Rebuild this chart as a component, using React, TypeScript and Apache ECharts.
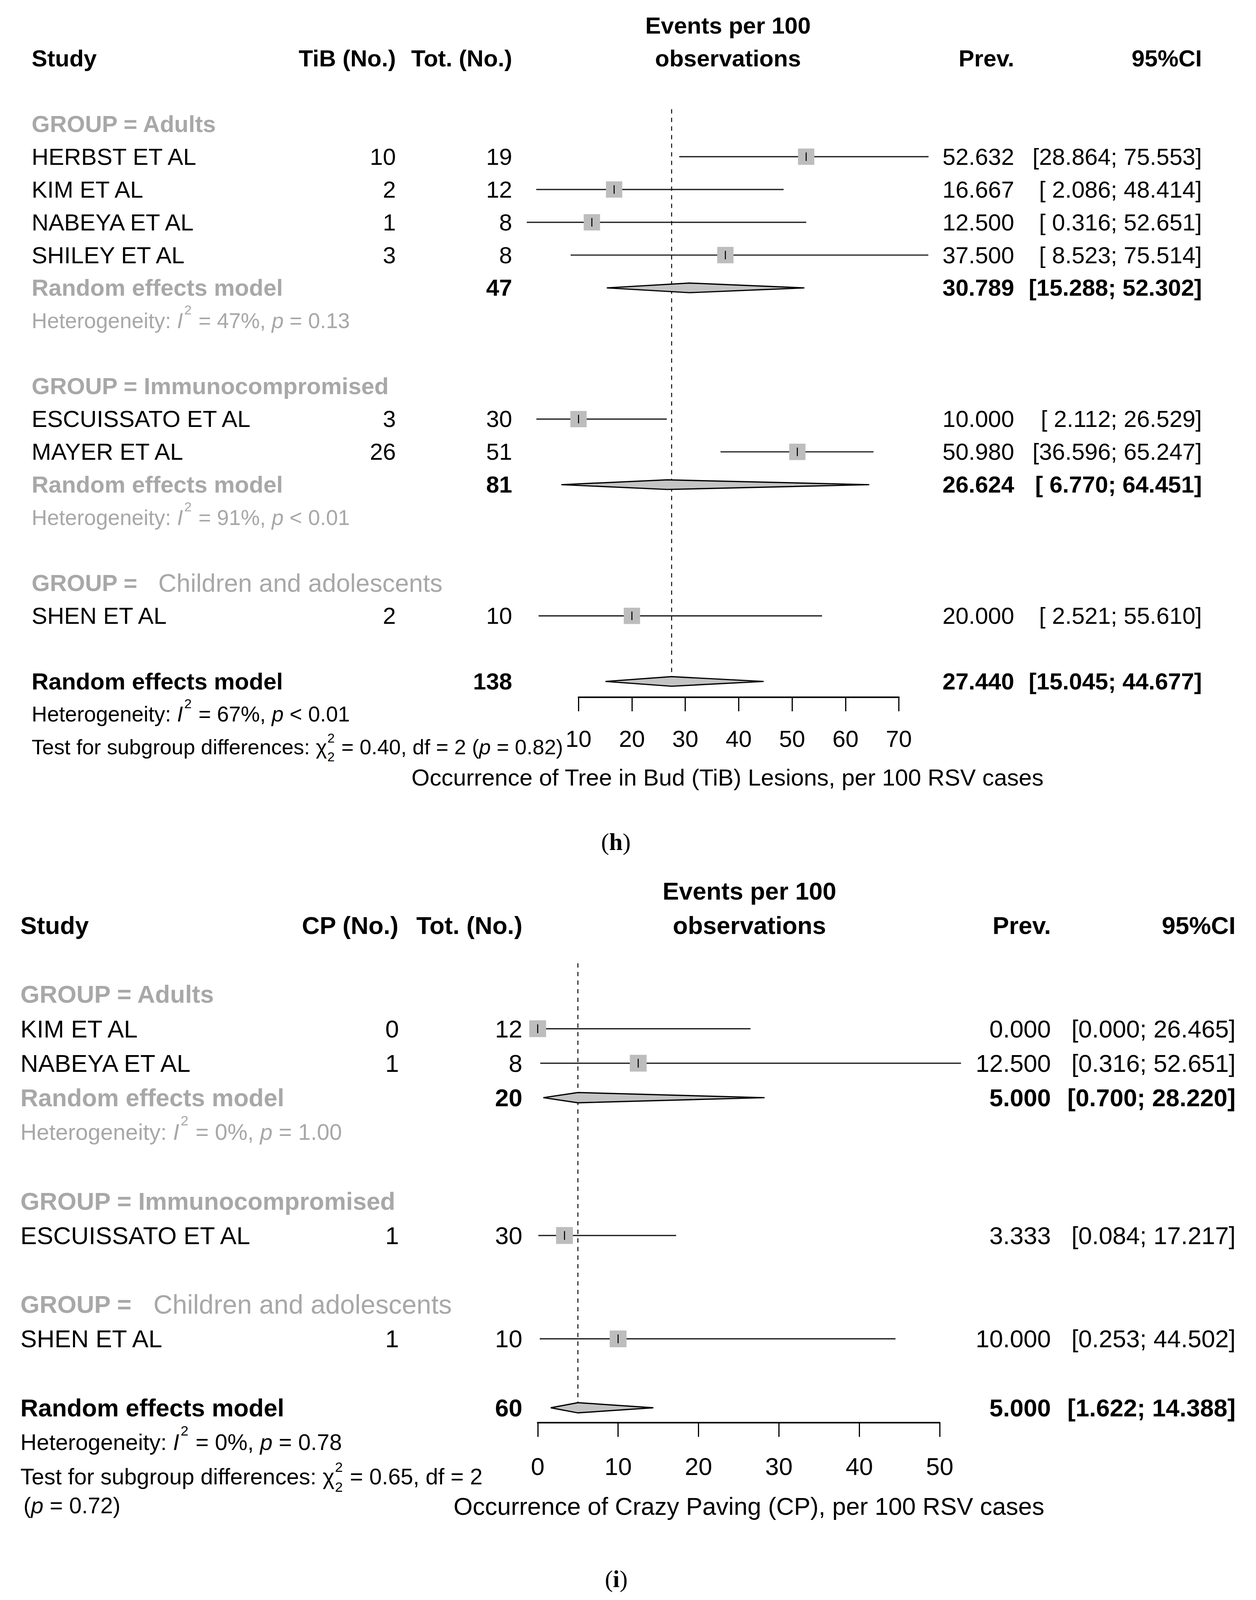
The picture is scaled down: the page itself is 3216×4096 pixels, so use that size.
import React, { useEffect, useRef } from 'react';
import * as echarts from 'echarts';

const W = 3216;
const H = 4096;
const S = W / 1231;
const FONT = '"Liberation Sans", Arial, Helvetica, sans-serif';
const SERIF = '"Liberation Serif", "Times New Roman", serif';
const BLACK = '#000000';
const GRAY = '#a8a8a8';
const SQ_FILL = '#bdbdbd';
const DIA_FILL = '#c4c4c4';
const MATH_K = 0.915; // plotmath lines are set slightly narrower
const TEST_K = 0.903;
const NAME_K = 1.075; // "Children and adolescents" label is set slightly wider

// ---------------- Panel (h): Tree in Bud ----------------
const hStudies = ['HERBST ET AL', 'KIM ET AL', 'NABEYA ET AL', 'SHILEY ET AL', 'ESCUISSATO ET AL', 'MAYER ET AL', 'SHEN ET AL'];
const hGroupIdx = [0, 0, 0, 0, 1, 1, 2];
const hEvents = [10, 2, 1, 3, 3, 26, 2];
const hTotals = [19, 12, 8, 8, 30, 51, 10];
const hPrev = [52.632, 16.667, 12.5, 37.5, 10.0, 50.98, 20.0];
const hLower = [28.864, 2.086, 0.316, 8.523, 2.112, 36.596, 2.521];
const hUpper = [75.553, 48.414, 52.651, 75.514, 26.529, 65.247, 55.61];
const hGroups = ['Adults', 'Immunocompromised', 'Children and adolescents'];
const hGroupBold = [true, true, false];
const hSubTotal = [47, 81, null];
const hSubPrev = [30.789, 26.624, null];
const hSubLower = [15.288, 6.77, null];
const hSubUpper = [52.302, 64.451, null];
const hSubI2 = ['47%', '91%', null];
const hSubP = ['= 0.13', '< 0.01', null];
const hOverallTotal = 138;
const hOverallPrev = 27.44;
const hOverallLower = 15.045;
const hOverallUpper = 44.677;
const hOverallI2 = '67%';
const hOverallP = '< 0.01';
const hChi2 = '0.40';
const hDf = '2';
const hChiP = '= 0.82';
const hTicks = [10, 20, 30, 40, 50, 60, 70];

// ---------------- Panel (i): Crazy Paving ----------------
const iStudies = ['KIM ET AL', 'NABEYA ET AL', 'ESCUISSATO ET AL', 'SHEN ET AL'];
const iGroupIdx = [0, 0, 1, 2];
const iEvents = [0, 1, 1, 1];
const iTotals = [12, 8, 30, 10];
const iPrev = [0.0, 12.5, 3.333, 10.0];
const iLower = [0.0, 0.316, 0.084, 0.253];
const iUpper = [26.465, 52.651, 17.217, 44.502];
const iGroups = ['Adults', 'Immunocompromised', 'Children and adolescents'];
const iGroupBold = [true, true, false];
const iSubTotal = [20, null, null];
const iSubPrev = [5.0, null, null];
const iSubLower = [0.7, null, null];
const iSubUpper = [28.22, null, null];
const iSubI2 = ['0%', null, null];
const iSubP = ['= 1.00', null, null];
const iOverallTotal = 60;
const iOverallPrev = 5.0;
const iOverallLower = 1.622;
const iOverallUpper = 14.388;
const iOverallI2 = '0%';
const iOverallP = '= 0.78';
const iChi2 = '0.65';
const iDf = '2';
const iChiP = '= 0.72';
const iTicks = [0, 10, 20, 30, 40, 50];

type Part = { t: string; it?: boolean; b?: boolean; sup?: boolean; stack?: boolean; k?: number };
type TextItem = { row: number; x: string; align: 'left' | 'right' | 'center'; bold: boolean; color: string; parts: Part[]; k: number };

let _ctx: CanvasRenderingContext2D | null = null;
function tw(t: string, fs: number, bold: boolean, it: boolean, fam: string): number {
  if (!_ctx) _ctx = document.createElement('canvas').getContext('2d');
  _ctx!.font = `${it ? 'italic ' : ''}${bold ? 'bold ' : ''}${fs}px ${fam}`;
  return _ctx!.measureText(t).width;
}

const SUPK = 0.62;

function partsWidth(parts: Part[], fs0: number, baseBold: boolean, fam: string): number {
  let w = 0;
  for (const p of parts) {
    const fs = fs0 * (p.k ?? 1);
    const b = p.b ?? baseBold;
    if (p.stack) w += tw(p.t, fs * SUPK, false, false, fam) + fs * 0.06;
    else if (p.sup) w += tw(p.t, fs * SUPK, false, false, fam) + fs * 0.1;
    else w += tw(p.t, fs, b, !!p.it, fam);
  }
  return w;
}

function partsEls(parts: Part[], xStart: number, y: number, fs0: number, color: string, baseBold: boolean, fam: string): any[] {
  const els: any[] = [];
  const mk = (t: string, x: number, yy: number, size: number, b: boolean, it: boolean) => {
    const lead = t.length - t.trimStart().length;
    const off = lead ? tw(t.slice(0, lead), size, b, it, fam) : 0;
    const tt = t.trim();
    if (!tt) return;
    els.push({
      type: 'text',
      x: x + off,
      y: yy,
      silent: true,
      style: {
        text: tt,
        fill: color,
        fontSize: size,
        fontFamily: fam,
        fontWeight: b ? 'bold' : 'normal',
        fontStyle: it ? 'italic' : 'normal',
        align: 'left',
        verticalAlign: 'middle',
        textAlign: 'left',
        textVerticalAlign: 'middle',
      },
    });
  };
  let x = xStart;
  for (const p of parts) {
    const fs = fs0 * (p.k ?? 1);
    const b = p.b ?? baseBold;
    if (p.stack) {
      const s = fs * SUPK;
      mk(p.t, x + fs * 0.02, y - fs * 0.42, s, false, false);
      mk(p.t, x + fs * 0.02, y + fs * 0.46, s, false, false);
      x += tw(p.t, s, false, false, fam) + fs * 0.06;
    } else if (p.sup) {
      const s = fs * SUPK;
      mk(p.t, x + fs * 0.06, y - fs * 0.5, s, false, false);
      x += tw(p.t, s, false, false, fam) + fs * 0.1;
    } else {
      mk(p.t, x, y, fs, b, !!p.it);
      x += tw(p.t, fs, b, !!p.it, fam);
    }
  }
  return els;
}

function itemEls(it: TextItem, xPix: number, y: number, fs0: number): any[] {
  const fs = fs0 * it.k;
  const w = partsWidth(it.parts, fs, it.bold, FONT);
  const x0 = it.align === 'left' ? xPix : it.align === 'right' ? xPix - w : xPix - w / 2;
  return partsEls(it.parts, x0, y, fs, it.color, it.bold, FONT);
}

type Panel = {
  studies: string[]; groupIdx: number[]; events: number[]; totals: number[];
  prev: number[]; lower: number[]; upper: number[];
  groups: string[]; groupBold: boolean[];
  subTotal: (number | null)[]; subPrev: (number | null)[]; subLower: (number | null)[]; subUpper: (number | null)[];
  subI2: (string | null)[]; subP: (string | null)[];
  overallTotal: number; overallPrev: number; overallLower: number; overallUpper: number;
  overallI2: string; overallP: string; chi2: string; df: string; chiP: string;
  ticks: number[]; evHeader: string; axisTitle: string; padLower: boolean; splitTest: boolean;
};

type Layout = {
  studyX: number; evX: number; totX: number; plotCX: number; prevX: number; ciX: number; titleCX: number;
  fs: number; row0Y: number; rowH: number; axisY: number; axisL: number; axisR: number;
  tickLen: number; labelY: number; titleY: number; sq: number; dh: number; refTopRow: number;
  test2X: number; test2Row: number;
};

const panelH: Panel = {
  studies: hStudies, groupIdx: hGroupIdx, events: hEvents, totals: hTotals, prev: hPrev, lower: hLower, upper: hUpper,
  groups: hGroups, groupBold: hGroupBold, subTotal: hSubTotal, subPrev: hSubPrev, subLower: hSubLower, subUpper: hSubUpper,
  subI2: hSubI2, subP: hSubP, overallTotal: hOverallTotal, overallPrev: hOverallPrev, overallLower: hOverallLower,
  overallUpper: hOverallUpper, overallI2: hOverallI2, overallP: hOverallP, chi2: hChi2, df: hDf, chiP: hChiP,
  ticks: hTicks, evHeader: 'TiB (No.)', axisTitle: 'Occurrence of Tree in Bud (TiB) Lesions, per 100 RSV cases',
  padLower: true, splitTest: false,
};

const panelI: Panel = {
  studies: iStudies, groupIdx: iGroupIdx, events: iEvents, totals: iTotals, prev: iPrev, lower: iLower, upper: iUpper,
  groups: iGroups, groupBold: iGroupBold, subTotal: iSubTotal, subPrev: iSubPrev, subLower: iSubLower, subUpper: iSubUpper,
  subI2: iSubI2, subP: iSubP, overallTotal: iOverallTotal, overallPrev: iOverallPrev, overallLower: iOverallLower,
  overallUpper: iOverallUpper, overallI2: iOverallI2, overallP: iOverallP, chi2: iChi2, df: iDf, chiP: iChiP,
  ticks: iTicks, evHeader: 'CP (No.)', axisTitle: 'Occurrence of Crazy Paving (CP), per 100 RSV cases',
  padLower: false, splitTest: true,
};

const layoutH: Layout = {
  studyX: 31, evX: 388, totX: 502, plotCX: 713.5, prevX: 994, ciX: 1178, titleCX: 713,
  fs: 60, row0Y: 25, rowH: 32.137, axisY: 683, axisL: 567, axisR: 881,
  tickLen: 14, labelY: 724, titleY: 762, sq: 16, dh: 4.7, refTopRow: 2.55, test2X: 23, test2Row: 0.83,
};

const layoutI: Layout = {
  studyX: 20, evX: 391, totX: 512, plotCX: 734.5, prevX: 1030, ciX: 1211, titleCX: 734,
  fs: 63, row0Y: 873, rowH: 33.765, axisY: 1394, axisL: 527, axisR: 921,
  tickLen: 14, labelY: 1437, titleY: 1476, sq: 16.5, dh: 5, refTopRow: 2.1, test2X: 23, test2Row: 0.83,
};

function buildPanel(d: Panel, L: Layout) {
  const items: TextItem[] = [];
  const studyData: number[][] = [];
  const diamondData: number[][] = [];
  const f3 = (v: number) => v.toFixed(3);
  const fLo = (v: number) => (d.padLower && v < 10 ? ' ' : '') + v.toFixed(3);
  const ci = (lo: number, hi: number) => `[${fLo(lo)}; ${f3(hi)}]`;
  const het = (i2: string, p: string): Part[] => [
    { t: 'Heterogeneity: ' }, { t: 'I', it: true }, { t: '2', sup: true }, { t: ` = ${i2}, ` }, { t: 'p', it: true }, { t: ` ${p}` },
  ];
  const add = (row: number, col: string, align: TextItem['align'], parts: Part[], bold: boolean, color = BLACK, k = 1) => {
    items.push({ row, x: col, align, parts, bold, color, k });
  };
  add(0, 'plotCX', 'center', [{ t: 'Events per 100' }], true);
  add(1, 'plotCX', 'center', [{ t: 'observations' }], true);
  add(1, 'studyX', 'left', [{ t: 'Study' }], true);
  add(1, 'evX', 'right', [{ t: d.evHeader }], true);
  add(1, 'totX', 'right', [{ t: 'Tot. (No.)' }], true);
  add(1, 'prevX', 'right', [{ t: 'Prev.' }], true);
  add(1, 'ciX', 'right', [{ t: '95%CI' }], true);
  let r = 3;
  d.groups.forEach((g, gi) => {
    add(r, 'studyX', 'left', d.groupBold[gi] ? [{ t: 'GROUP = ' + g }] : [{ t: 'GROUP = ' }, { t: '  ' + g, b: false, k: NAME_K }], true, GRAY);
    r++;
    d.studies.forEach((s, i) => {
      if (d.groupIdx[i] !== gi) return;
      add(r, 'studyX', 'left', [{ t: s }], false);
      add(r, 'evX', 'right', [{ t: String(d.events[i]) }], false);
      add(r, 'totX', 'right', [{ t: String(d.totals[i]) }], false);
      add(r, 'prevX', 'right', [{ t: f3(d.prev[i]) }], false);
      add(r, 'ciX', 'right', [{ t: ci(d.lower[i], d.upper[i]) }], false);
      studyData.push([d.prev[i], r, d.lower[i], d.upper[i]]);
      r++;
    });
    const st = d.subTotal[gi];
    if (st != null) {
      add(r, 'studyX', 'left', [{ t: 'Random effects model' }], true, GRAY);
      add(r, 'totX', 'right', [{ t: String(st) }], true);
      add(r, 'prevX', 'right', [{ t: f3(d.subPrev[gi]!) }], true);
      add(r, 'ciX', 'right', [{ t: ci(d.subLower[gi]!, d.subUpper[gi]!) }], true);
      diamondData.push([d.subPrev[gi]!, r, d.subLower[gi]!, d.subUpper[gi]!]);
      r++;
      add(r, 'studyX', 'left', het(d.subI2[gi]!, d.subP[gi]!), false, GRAY, MATH_K);
      r++;
    }
    r++;
  });
  const overallRow = r;
  add(r, 'studyX', 'left', [{ t: 'Random effects model' }], true);
  add(r, 'totX', 'right', [{ t: String(d.overallTotal) }], true);
  add(r, 'prevX', 'right', [{ t: f3(d.overallPrev) }], true);
  add(r, 'ciX', 'right', [{ t: ci(d.overallLower, d.overallUpper) }], true);
  diamondData.push([d.overallPrev, r, d.overallLower, d.overallUpper]);
  r++;
  add(r, 'studyX', 'left', het(d.overallI2, d.overallP), false, BLACK, MATH_K);
  r++;
  const testHead: Part[] = [{ t: 'Test for subgroup differences: χ' }, { t: '2', stack: true }, { t: ` = ${d.chi2}, df = ${d.df}` }];
  const testTail: Part[] = [{ t: '(' }, { t: 'p', it: true }, { t: ` ${d.chiP})` }];
  if (d.splitTest) {
    add(r, 'studyX', 'left', testHead, false, BLACK, MATH_K);
    add(r + L.test2Row, 'test2X', 'left', testTail, false, BLACK, MATH_K);
  } else {
    add(r, 'studyX', 'left', [...testHead, { t: ' ' }, ...testTail], false, BLACK, TEST_K);
  }
  return { items, studyData, diamondData, overallRow };
}

function buildOption() {
  const panels = [
    { d: panelH, L: layoutH },
    { d: panelI, L: layoutI },
  ];
  const grid: any[] = [];
  const xAxis: any[] = [];
  const yAxis: any[] = [];
  const series: any[] = [];
  panels.forEach(({ d, L }, gi) => {
    const built = buildPanel(d, L);
    const fs = L.fs;
    const t0 = d.ticks[0];
    const t1 = d.ticks[d.ticks.length - 1];
    const step = d.ticks[1] - d.ticks[0];
    grid.push({ left: L.axisL * S, top: L.row0Y * S, width: (L.axisR - L.axisL) * S, height: (L.axisY - L.row0Y) * S, containLabel: false });
    const axisMid = (L.axisL + L.axisR) / 2;
    const shift = (L.titleCX - axisMid) * S * 2;
    xAxis.push({
      gridIndex: gi,
      type: 'value',
      position: 'bottom',
      min: t0,
      max: t1,
      interval: step,
      axisLine: { show: true, onZero: false, lineStyle: { color: BLACK, width: 4.2 } },
      axisTick: { show: true, inside: false, length: L.tickLen * S, lineStyle: { color: BLACK, width: 3 } },
      axisLabel: { show: true, color: BLACK, fontSize: fs, fontFamily: FONT, lineHeight: fs, margin: (L.labelY - L.axisY) * S - fs / 2 },
      splitLine: { show: false },
      name: d.axisTitle,
      nameLocation: 'middle',
      nameGap: (L.titleY - L.axisY) * S - fs / 2,
      nameTextStyle: {
        color: BLACK, fontSize: fs, fontFamily: FONT, lineHeight: fs,
        padding: shift >= 0 ? [0, 0, 0, shift] : [0, -shift, 0, 0],
      },
    });
    yAxis.push({
      gridIndex: gi,
      type: 'value',
      min: 0,
      max: (L.axisY - L.row0Y) / L.rowH,
      inverse: true,
      show: false,
      splitLine: { show: false },
    });
    const sq = L.sq * S;
    const dh = L.dh * S;
    // reference (dashed) line at overall estimate
    series.push({
      type: 'custom',
      coordinateSystem: 'cartesian2d',
      xAxisIndex: gi,
      yAxisIndex: gi,
      clip: false,
      silent: true,
      z: 1,
      data: [[d.overallPrev, L.refTopRow, built.overallRow]],
      renderItem: (_p: any, api: any) => {
        const a = api.coord([api.value(0), api.value(1)]);
        const b = api.coord([api.value(0), api.value(2)]);
        return {
          type: 'line',
          shape: { x1: a[0], y1: a[1], x2: b[0], y2: b[1] - dh },
          style: { stroke: BLACK, lineWidth: 2.4, lineDash: [11, 11] },
        };
      },
    });
    // studies: CI line + square + tick
    series.push({
      type: 'custom',
      coordinateSystem: 'cartesian2d',
      xAxisIndex: gi,
      yAxisIndex: gi,
      clip: false,
      silent: true,
      z: 2,
      data: built.studyData,
      renderItem: (_p: any, api: any) => {
        const c = api.coord([api.value(0), api.value(1)]);
        const lo = api.coord([api.value(2), api.value(1)]);
        const hi = api.coord([api.value(3), api.value(1)]);
        return {
          type: 'group',
          children: [
            { type: 'line', shape: { x1: lo[0], y1: c[1], x2: hi[0], y2: c[1] }, style: { stroke: '#1e1e1e', lineWidth: 3.2 } },
            { type: 'rect', shape: { x: c[0] - sq / 2, y: c[1] - sq / 2, width: sq, height: sq }, style: { fill: SQ_FILL } },
            { type: 'line', shape: { x1: c[0], y1: c[1] - sq * 0.26, x2: c[0], y2: c[1] + sq * 0.26 }, style: { stroke: BLACK, lineWidth: 2.6 } },
          ],
        };
      },
    });
    // diamonds
    series.push({
      type: 'custom',
      coordinateSystem: 'cartesian2d',
      xAxisIndex: gi,
      yAxisIndex: gi,
      clip: false,
      silent: true,
      z: 3,
      data: built.diamondData,
      renderItem: (_p: any, api: any) => {
        const c = api.coord([api.value(0), api.value(1)]);
        const lo = api.coord([api.value(2), api.value(1)]);
        const hi = api.coord([api.value(3), api.value(1)]);
        return {
          type: 'polygon',
          shape: { points: [[lo[0], c[1]], [c[0], c[1] - dh], [hi[0], c[1]], [c[0], c[1] + dh]] },
          style: { fill: DIA_FILL, stroke: BLACK, lineWidth: 3.2, lineJoin: 'miter' },
        };
      },
    });
    // texts
    series.push({
      type: 'custom',
      coordinateSystem: 'cartesian2d',
      xAxisIndex: gi,
      yAxisIndex: gi,
      clip: false,
      silent: true,
      z: 4,
      data: [[t0, 0]],
      renderItem: (_p: any, api: any) => {
        const children: any[] = [];
        for (const it of built.items) {
          const y = api.coord([t0, it.row])[1];
          const xPix = (L as any)[it.x] * S;
          children.push(...itemEls(it, xPix, y, fs));
        }
        return { type: 'group', children };
      },
    });
  });

  // captions
  const capFs = 62;
  const caption = (letter: string, cx: number, cy: number) => {
    const parts: Part[] = [{ t: '(' }, { t: letter, b: true }, { t: ')' }];
    const w = partsWidth(parts, capFs, false, SERIF);
    return partsEls(parts, cx * S - w / 2, cy * S, capFs, BLACK, false, SERIF);
  };
  const graphicEls = [...caption('h', 603.6, 825), ...caption('i', 604, 1547)];

  return {
    animation: false,
    backgroundColor: '#ffffff',
    textStyle: { fontFamily: FONT },
    grid,
    xAxis,
    yAxis,
    series,
    graphic: { elements: graphicEls },
  };
}

export default function App() {
  const ref = useRef<HTMLDivElement>(null);
  useEffect(() => {
    document.body.style.margin = '0';
    const chart = echarts.init(ref.current!, undefined, { renderer: 'svg', width: W, height: H });
    chart.setOption(buildOption() as any);
    return () => {
      chart.dispose();
    };
  }, []);
  return <div ref={ref} style={{ width: W, height: H, background: '#ffffff' }} />;
}
